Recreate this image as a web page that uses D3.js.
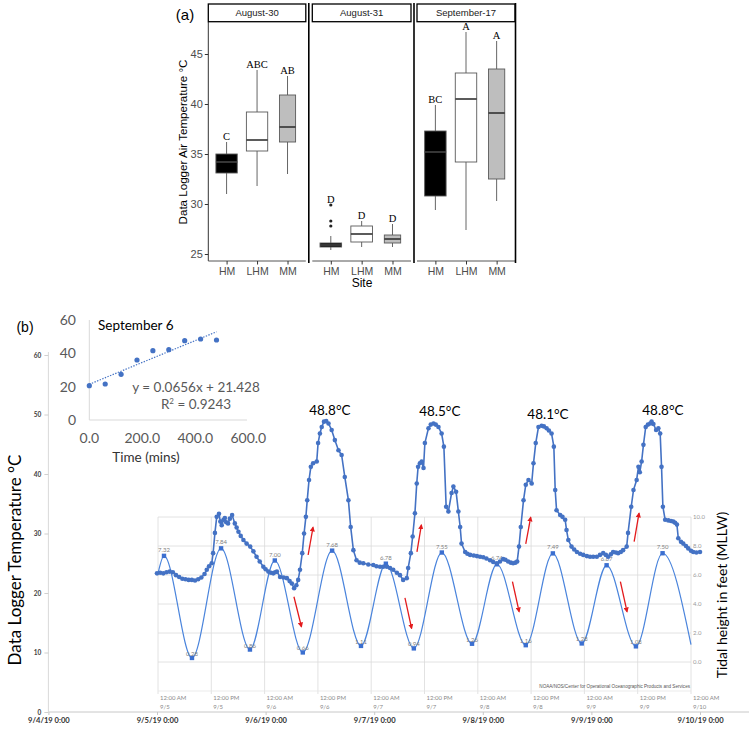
<!DOCTYPE html>
<html>
<head>
<meta charset="utf-8">
<script src="https://cdn.jsdelivr.net/npm/d3@7"></script>
<style>
  body { margin: 0; background: #fff; }
  svg { display: block; }
</style>
</head>
<body>
<div id="chart"></div>
<script>
// ---------- (a) boxplots ----------
const dates = ['August-30', 'August-31', 'September-17'];
const sites = ['HM', 'LHM', 'MM'];
// [lower whisker, Q1, median, Q3, upper whisker] per site, per date
const statsAug30 = [[31.0, 33.1, 34.2, 35.0, 36.2], [31.8, 35.3, 36.4, 39.2, 43.4], [33.0, 36.2, 37.7, 40.9, 42.8]];
const statsAug31 = [[25.4, 25.7, 25.9, 26.1, 26.8], [25.7, 26.2, 27.0, 27.8, 28.3], [25.7, 26.1, 26.5, 26.9, 28.0]];
const statsSep17 = [[29.4, 30.8, 35.2, 37.3, 39.9], [27.4, 34.2, 40.5, 43.1, 47.2], [30.3, 32.5, 39.1, 43.5, 46.3]];
const outliersAug31HM = [27.8, 28.3, 29.9];
const lettersAug30 = ['C', 'ABC', 'AB'];
const lettersAug31 = ['D', 'D', 'D'];
const lettersSep17 = ['BC', 'A', 'A'];
const tempTicksA = [25, 30, 35, 40, 45];

// ---------- (b) inset: September 6 ----------
const insetMins = [0, 60, 120, 180, 240, 300, 360, 420, 480];
const insetTemps = [20.6, 21.6, 27.4, 36.0, 41.6, 42.2, 47.6, 48.6, 48.0];
const trendSlope = 0.0656, trendIntercept = 21.428, trendR2 = 0.9243;
const insetYTicks = [0, 20, 40, 60];
const insetXTicks = [0, 200, 400, 600];

// ---------- (b) logger temperature, [hours after 9/5 0:00, °C] ----------
const loggerReadings = [
  [0, 23.3], [0.7, 23.4], [1.4, 23.3], [2.1, 23.5], [2.8, 23.6], [3.5, 23.5], [4.2, 23.0], [4.9, 22.7],
  [5.6, 22.4], [6.3, 22.3], [7.0, 22.2], [7.7, 22.2], [8.4, 22.1], [9.1, 22.3], [9.8, 22.6], [10.5, 23.2],
  [11.0, 23.9], [11.5, 24.5], [12.1, 25.0], [12.4, 26.7], [12.8, 30.1], [13.2, 32.8], [13.7, 33.3], [14.0, 32.0],
  [14.3, 31.4], [14.7, 32.3], [15.0, 32.6], [15.3, 31.9], [15.7, 31.7], [16.1, 32.5], [16.6, 33.1], [17.2, 31.7],
  [17.6, 31.0], [18.0, 30.3], [18.5, 29.6], [19.1, 28.9], [19.8, 28.3], [20.6, 27.8], [21.3, 27.0], [22.0, 26.1],
  [22.7, 25.3], [23.5, 24.4], [24.0, 24.0], [24.6, 23.6], [25.2, 23.4], [25.7, 23.3], [26.1, 23.5], [26.5, 23.6],
  [27.2, 22.7], [28.0, 22.6], [28.7, 22.5], [29.3, 22.0], [29.8, 21.6], [30.3, 20.8], [30.8, 21.3], [31.2, 22.2],
  [31.6, 23.9], [32.1, 26.7], [32.5, 30.0], [32.9, 32.8], [33.2, 35.6], [33.6, 39.0], [34.0, 41.2], [34.5, 41.8],
  [35.3, 42.1], [35.6, 45.2], [36.0, 46.8], [36.4, 47.9], [36.9, 48.8], [37.4, 48.9], [37.9, 48.5], [38.6, 47.4],
  [39.3, 45.7], [40.1, 44.0], [40.8, 43.2], [41.5, 39.5], [42.3, 35.6], [42.8, 31.1], [43.4, 27.2], [44.1, 25.5],
  [44.8, 25.1], [45.6, 25.0], [46.7, 24.8], [47.8, 24.7], [48.5, 24.5], [49.3, 24.4], [50.0, 24.4], [50.8, 24.4],
  [51.5, 24.2], [52.2, 23.9], [53.0, 23.4], [53.7, 23.0], [54.4, 22.2], [55.2, 22.5], [55.5, 24.2], [56.1, 26.7],
  [56.5, 29.5], [57.0, 33.4], [57.4, 38.4], [57.7, 41.2], [58.1, 41.8], [58.5, 42.1], [58.9, 41.0], [59.2, 45.2],
  [60.0, 47.7], [60.5, 48.3], [61.1, 48.5], [61.6, 48.3], [62.2, 47.9], [62.9, 46.8], [63.4, 44.6], [63.9, 34.5],
  [64.4, 33.7], [65.1, 36.8], [65.5, 37.9], [66.1, 37.0], [66.6, 33.7], [67.0, 31.1], [67.3, 28.3], [68.1, 26.9],
  [68.6, 26.6], [69.2, 26.4], [70.0, 26.3], [70.7, 26.2], [71.4, 26.1], [72.1, 26.0], [72.8, 25.8], [73.6, 25.5],
  [74.3, 25.2], [75.1, 25.0], [75.8, 25.3], [76.5, 25.7], [77.0, 25.6], [77.6, 25.3], [78.2, 25.1], [78.7, 25.0],
  [79.2, 25.1], [79.6, 25.3], [80.0, 27.8], [80.4, 31.1], [81.0, 35.6], [81.5, 38.2], [82.1, 39.0], [82.8, 38.4],
  [83.2, 41.8], [83.7, 45.2], [84.3, 47.9], [85.0, 48.1], [85.5, 48.0], [86.1, 47.7], [86.6, 47.3], [87.2, 46.8],
  [87.7, 44.6], [88.0, 37.3], [88.3, 33.9], [89.1, 33.1], [89.6, 32.8], [90.2, 32.3], [90.5, 30.6], [90.9, 28.9],
  [91.6, 27.8], [92.2, 27.3], [92.8, 26.9], [93.5, 26.6], [94.2, 26.4], [95.0, 26.2], [95.7, 26.1], [96.4, 26.1],
  [97.2, 26.1], [97.9, 26.4], [98.6, 26.7], [99.2, 26.4], [99.7, 26.1], [100.3, 26.5], [100.8, 26.9], [101.4, 26.8],
  [101.9, 26.7], [102.5, 26.9], [103.0, 27.2], [103.8, 27.8], [104.1, 30.1], [104.8, 34.5], [105.3, 37.3], [106.0, 39.0],
  [106.4, 41.2], [106.7, 40.3], [107.1, 42.1], [107.5, 44.9], [108.0, 47.9], [108.5, 48.3], [109.0, 48.5], [109.3, 48.8],
  [109.7, 48.4], [110.3, 47.4], [110.8, 47.7], [111.2, 46.8], [111.5, 41.2], [111.8, 34.5], [112.3, 32.3], [113.0, 32.2],
  [113.6, 32.1], [114.1, 32.0], [114.5, 31.8], [114.9, 31.5], [115.2, 29.2], [115.8, 28.6], [116.3, 28.3], [116.9, 27.9],
  [117.4, 27.5], [118.0, 27.1], [118.5, 26.9], [119.2, 26.8], [120.0, 26.9]
];
const peakLabels = ['48.8°C', '48.5°C', '48.1°C', '48.8°C'];
const peakLabelHours = [38.2, 62.5, 86.4, 111.8];
const peakLabelTemps = [48.8, 48.5, 48.1, 48.8];
const mainYTicks = [0, 10, 20, 30, 40, 50, 60];

// ---------- (b) NOAA tide predictions, [hours after 9/5 0:00, ft] ----------
const tideExtremes = [
  [1.35, 7.32], [7.65, 0.28], [14.2, 7.84], [20.7, 0.86], [26.3, 7.00], [32.6, 0.66], [39.2, 7.68], [45.7, 1.11],
  [51.3, 6.78], [57.6, 0.94], [63.9, 7.55], [70.7, 1.26], [76.3, 6.74], [82.8, 1.16], [88.9, 7.49], [95.4, 1.28],
  [101.0, 6.67], [107.6, 1.08], [113.6, 7.50]
];
const tideStart = [0, 6.1];
const tideEnd = [120, 1.2];
const tideYTicks = [0, 2, 4, 6, 8, 10];
// red arrows: [fromHour, fromFt, toHour, toFt]
const tideArrows = [
  [30.6, 4.5, 32.3, 2.43], [33.8, 7.38, 34.9, 9.29],
  [55.6, 4.43, 57.1, 2.32], [58.3, 7.6, 59.3, 9.45],
  [79.8, 5.54, 81.3, 3.47], [82.8, 8.14, 83.9, 9.98],
  [104.1, 5.54, 105.6, 3.47], [107.2, 8.3, 108.3, 10.26]
];

const width = 749, height = 730;
const svg = d3.select('#chart').append('svg')
  .attr('width', width).attr('height', height)
  .attr('viewBox', `0 0 ${width} ${height}`);

const sans = 'Liberation Sans, Arial, sans-serif';
const xl = 'Lato, Open Sans, sans-serif';

// ================= PANEL (a) =================
const statsByDate = [statsAug30, statsAug31, statsSep17];
const lettersByDate = [lettersAug30, lettersAug31, lettersSep17];
const panels = [[208.3, 305.8], [312.3, 411.0], [417.0, 515.0]];
const siteFill = { HM: '#000000', LHM: '#ffffff', MM: '#bebebe' };
const siteWidth = { HM: 0.7, LHM: 0.7, MM: 0.53 };

const yA = d3.scaleLinear().domain([24.3, 48.2]).range([261, 22]);

svg.append('text').attr('x', 185).attr('y', 20).attr('text-anchor', 'middle')
  .style('font-family', sans).style('font-size', '15px').text('(a)');

// y axis
const yAxisA = svg.append('g').attr('transform', 'translate(208.3,0)')
  .call(d3.axisLeft(yA).tickValues(tempTicksA).tickSize(3.5).tickPadding(2));
yAxisA.select('.domain').attr('stroke', '#333').attr('d', `M0,${yA.range()[1]}V${yA.range()[0]}`);
yAxisA.selectAll('.tick line').attr('stroke', '#333');
yAxisA.selectAll('text').style('font-family', sans).style('font-size', '11px').attr('fill', '#4d4d4d');

svg.append('text')
  .attr('transform', 'translate(187,142) rotate(-90)')
  .attr('text-anchor', 'middle')
  .style('font-family', sans).style('font-size', '11.6px')
  .text('Data Logger Air Temperature °C');

dates.forEach((date, di) => {
  const [left, right] = panels[di];
  const xA = d3.scaleLinear().domain([0.4, 3.6]).range([left, right]);
  const g = svg.append('g');

  // strip
  g.append('rect').attr('x', left).attr('y', 4).attr('width', right - left).attr('height', 17.7)
    .attr('fill', '#fff').attr('stroke', '#000').attr('stroke-width', 1.3);
  g.append('text').attr('x', (left + right) / 2).attr('y', 16.3).attr('text-anchor', 'middle')
    .style('font-family', sans).style('font-size', '9.5px').attr('fill', '#1a1a1a').text(date);

  // bottom axis
  const xAxisA = g.append('g').attr('transform', 'translate(0,261)')
    .call(d3.axisBottom(xA).tickValues([1, 2, 3]).tickFormat((d) => sites[d - 1]).tickSize(3.5).tickPadding(3));
  xAxisA.select('.domain').attr('stroke', '#555').attr('d', `M${left},0H${right}`);
  xAxisA.selectAll('.tick line').attr('stroke', '#333');
  xAxisA.selectAll('text').style('font-family', sans).style('font-size', '10.5px').attr('fill', '#4d4d4d');

  statsByDate[di].forEach((s, si) => {
    const site = sites[si];
    const cx = xA(si + 1);
    const half = (xA(1 + siteWidth[site] / 2) - xA(1));
    const [lo, q1, med, q3, hi] = s;
    g.append('line').attr('x1', cx).attr('x2', cx).attr('y1', yA(lo)).attr('y2', yA(q1))
      .attr('stroke', '#555').attr('stroke-width', 0.9);
    g.append('line').attr('x1', cx).attr('x2', cx).attr('y1', yA(q3)).attr('y2', yA(hi))
      .attr('stroke', '#555').attr('stroke-width', 0.9);
    g.append('rect').attr('x', cx - half).attr('y', yA(q3)).attr('width', half * 2)
      .attr('height', yA(q1) - yA(q3))
      .attr('fill', siteFill[site]).attr('stroke', '#5a5a5a').attr('stroke-width', 0.9);
    g.append('line').attr('x1', cx - half).attr('x2', cx + half).attr('y1', yA(med)).attr('y2', yA(med))
      .attr('stroke', site === 'HM' ? '#444' : '#333').attr('stroke-width', 1.6);

    let top = hi;
    if (date === 'August-31' && site === 'HM') {
      g.selectAll(null).data(outliersAug31HM).enter().append('circle')
        .attr('cx', cx).attr('cy', (d) => yA(d)).attr('r', 1.6).attr('fill', '#222');
      top = d3.max(outliersAug31HM);
    }
    g.append('text').attr('x', cx).attr('y', yA(top) - 2.5).attr('text-anchor', 'middle')
      .style('font-family', 'Liberation Serif, Times New Roman, serif').style('font-size', '10.5px')
      .text(lettersByDate[di][si]);
  });

  // panel divider
  g.append('line').attr('x1', right + (di < 2 ? 3 : 0.5)).attr('x2', right + (di < 2 ? 3 : 0.5))
    .attr('y1', 3).attr('y2', 263).attr('stroke', '#000').attr('stroke-width', 1.6);
});

svg.append('text').attr('x', 362).attr('y', 287).attr('text-anchor', 'middle')
  .style('font-family', sans).style('font-size', '12px').text('Site');

// ================= PANEL (b) main axes =================
const day0 = new Date(2019, 8, 5);
const atHour = (h) => new Date(day0.getTime() + h * 3600000);

const xMain = d3.scaleTime().domain([new Date(2019, 8, 4), new Date(2019, 8, 10)]).range([48.4, 700]);
const yMain = d3.scaleLinear().domain([0, 60]).range([712, 355]);

const xAxisMain = svg.append('g').attr('transform', 'translate(0,712)')
  .call(d3.axisBottom(xMain).ticks(d3.timeDay.every(1)).tickSize(3).tickPadding(3)
    .tickFormat(d3.timeFormat('%-m/%-d/%y 0:00')));
xAxisMain.select('.domain').attr('stroke', '#c8c8c8').attr('d', 'M48.4,0H749');
xAxisMain.selectAll('.tick line').attr('stroke', '#c8c8c8');
xAxisMain.selectAll('text').style('font-family', xl).style('font-size', '7.6px')
  .style('font-weight', 'bold').attr('fill', '#333');

const yAxisMain = svg.append('g').attr('transform', 'translate(48.4,0)')
  .call(d3.axisLeft(yMain).tickValues(mainYTicks).tickSize(4).tickPadding(3));
yAxisMain.select('.domain').attr('stroke', '#d9d9d9').attr('d', 'M0,352V712');
yAxisMain.selectAll('.tick line').attr('stroke', '#d0d0d0');
yAxisMain.selectAll('text').style('font-family', xl).style('font-size', '6.5px')
  .style('font-weight', 'bold').attr('fill', '#404040');

svg.append('text')
  .attr('transform', 'translate(21,560) rotate(-90)')
  .attr('text-anchor', 'middle')
  .style('font-family', xl).style('font-size', '17px')
  .text('Data Logger Temperature °C');

svg.append('text').attr('x', 25).attr('y', 332).attr('text-anchor', 'middle')
  .style('font-family', sans).style('font-size', '14px').text('(b)');

// ================= tide chart overlay =================
const xTide = d3.scaleTime().domain([day0, new Date(2019, 8, 10)]).range([158, 691]);
const yTide = d3.scaleLinear().domain([-2, 10]).range([691, 517]);
const tide = svg.append('g');

const halfDays = d3.timeHour.every(12).range(day0, new Date(2019, 8, 10, 1));
tide.selectAll('.vgrid').data(halfDays).enter().append('line')
  .attr('x1', (d) => xTide(d)).attr('x2', (d) => xTide(d))
  .attr('y1', yTide(10)).attr('y2', yTide(-2) + 3)
  .attr('stroke', '#dadada').attr('stroke-width', 0.8);
tide.selectAll('.hgrid').data(tideYTicks).enter().append('line')
  .attr('x1', xTide.range()[0]).attr('x2', xTide.range()[1])
  .attr('y1', (d) => yTide(d)).attr('y2', (d) => yTide(d))
  .attr('stroke', '#dadada').attr('stroke-width', 0.8);
tide.append('line').attr('x1', xTide.range()[0]).attr('x2', xTide.range()[1])
  .attr('y1', yTide(-2)).attr('y2', yTide(-2)).attr('stroke', '#e6e6e6').attr('stroke-width', 0.8);

tide.selectAll('.ylab').data(tideYTicks).enter().append('text')
  .attr('x', xTide.range()[1] + 2).attr('y', (d) => yTide(d) + 2)
  .style('font-family', xl).style('font-size', '6px').attr('fill', '#9a9a9a')
  .text((d) => d.toFixed(1));

const tideLab = tide.selectAll('.xlab').data(halfDays).enter().append('text')
  .attr('x', (d) => xTide(d) + 2).attr('y', 700)
  .style('font-family', xl).style('font-size', '6px').attr('fill', '#8a8a8a');
tideLab.append('tspan').text((d) => d3.timeFormat('%I:%M %p')(d));
tideLab.append('tspan').attr('x', (d) => xTide(d) + 2).attr('dy', 8.5).text((d) => d3.timeFormat('%-m/%-d')(d));

tide.append('text').attr('x', xTide.range()[1] - 1).attr('y', 688).attr('text-anchor', 'end')
  .style('font-family', sans).style('font-size', '4.6px').attr('fill', '#555')
  .text('NOAA/NOS/Center for Operational Oceanographic Products and Services');

const tidePts = [tideStart, ...tideExtremes, tideEnd];
tide.append('path').datum(tidePts)
  .attr('fill', 'none').attr('stroke', '#4a84dc').attr('stroke-width', 1.2)
  .attr('d', d3.line().x((d) => xTide(atHour(d[0]))).y((d) => yTide(d[1])).curve(d3.curveMonotoneX));
tide.selectAll('.ext').data(tideExtremes).enter().append('rect')
  .attr('x', (d) => xTide(atHour(d[0])) - 2.2).attr('y', (d) => yTide(d[1]) - 2.2)
  .attr('width', 4.4).attr('height', 4.4).attr('fill', '#3b6fd0');
tide.selectAll('.extlab').data(tideExtremes).enter().append('text')
  .attr('x', (d) => xTide(atHour(d[0]))).attr('y', (d) => yTide(d[1]) - (d[1] > 4 ? 4 : 2))
  .attr('text-anchor', 'middle')
  .style('font-family', xl).style('font-size', '6px').attr('fill', '#7f7f7f')
  .text((d) => d[1].toFixed(2));

svg.append('text')
  .attr('transform', 'translate(727,595) rotate(-90)')
  .attr('text-anchor', 'middle')
  .style('font-family', xl).style('font-size', '14px')
  .text('Tidal height in feet (MLLW)');

// ================= logger temperature =================
const tempLine = d3.line().x((d) => xMain(atHour(d[0]))).y((d) => yMain(d[1]));
svg.append('path').datum(loggerReadings)
  .attr('fill', 'none').attr('stroke', '#4472C4').attr('stroke-width', 1.6).attr('d', tempLine);
svg.selectAll('.lr').data(loggerReadings).enter().append('circle')
  .attr('cx', (d) => xMain(atHour(d[0]))).attr('cy', (d) => yMain(d[1]))
  .attr('r', 2.3).attr('fill', '#4472C4');

svg.selectAll('.peak').data(peakLabels).enter().append('text')
  .attr('x', (d, i) => xMain(atHour(peakLabelHours[i])))
  .attr('y', (d, i) => yMain(peakLabelTemps[i]) - 7)
  .attr('text-anchor', 'middle')
  .style('font-family', xl).style('font-size', '13.5px').attr('fill', '#000')
  .text((d) => d);

// red arrows
svg.append('defs').append('marker').attr('id', 'arrowhead')
  .attr('viewBox', '0 0 10 10').attr('refX', 8).attr('refY', 5)
  .attr('markerWidth', 4).attr('markerHeight', 4).attr('orient', 'auto')
  .append('path').attr('d', 'M0,0L10,5L0,10z').attr('fill', '#e31a1c');
svg.selectAll('.arrow').data(tideArrows).enter().append('line')
  .attr('x1', (d) => xTide(atHour(d[0]))).attr('y1', (d) => yTide(d[1]))
  .attr('x2', (d) => xTide(atHour(d[2]))).attr('y2', (d) => yTide(d[3]))
  .attr('stroke', '#e31a1c').attr('stroke-width', 1.3).attr('marker-end', 'url(#arrowhead)');

// ================= inset: September 6 =================
const xIn = d3.scaleLinear().domain([0, 600]).range([89.3, 248.3]);
const yIn = d3.scaleLinear().domain([0, 60]).range([420, 320]);
const inset = svg.append('g');

inset.append('line').attr('x1', xIn(0)).attr('x2', xIn(0)).attr('y1', yIn(60)).attr('y2', yIn(0))
  .attr('stroke', '#d9d9d9');
inset.append('line').attr('x1', xIn(0)).attr('x2', xIn(595)).attr('y1', yIn(0)).attr('y2', yIn(0))
  .attr('stroke', '#d9d9d9');
inset.selectAll('.iy').data(insetYTicks).enter().append('text')
  .attr('x', 76).attr('y', (d) => yIn(d) + 5).attr('text-anchor', 'end')
  .style('font-family', xl).style('font-size', '14px').attr('fill', '#595959').text((d) => d);
inset.selectAll('.ix').data(insetXTicks).enter().append('text')
  .attr('x', (d) => xIn(d)).attr('y', 443).attr('text-anchor', 'middle')
  .style('font-family', xl).style('font-size', '14px').attr('fill', '#595959').text((d) => d.toFixed(1));
inset.append('text').attr('x', 146).attr('y', 462).attr('text-anchor', 'middle')
  .style('font-family', xl).style('font-size', '13.5px').attr('fill', '#333').text('Time (mins)');
inset.append('text').attr('x', 98).attr('y', 330)
  .style('font-family', xl).style('font-size', '13.5px').attr('fill', '#000').text('September 6');

const trendX = d3.extent(insetMins);
inset.append('line')
  .attr('x1', xIn(trendX[0])).attr('y1', yIn(trendSlope * trendX[0] + trendIntercept))
  .attr('x2', xIn(trendX[1])).attr('y2', yIn(trendSlope * trendX[1] + trendIntercept))
  .attr('stroke', '#4472C4').attr('stroke-width', 1.2).attr('stroke-dasharray', '1.4,1.4');
inset.selectAll('.ip').data(insetMins).enter().append('circle')
  .attr('cx', (d) => xIn(d)).attr('cy', (d, i) => yIn(insetTemps[i]))
  .attr('r', 2.6).attr('fill', '#4472C4');

inset.append('text').attr('x', 196).attr('y', 392).attr('text-anchor', 'middle')
  .style('font-family', xl).style('font-size', '13.5px').attr('fill', '#595959')
  .text(`y = ${trendSlope}x + ${trendIntercept}`);
const r2 = inset.append('text').attr('x', 196).attr('y', 409).attr('text-anchor', 'middle')
  .style('font-family', xl).style('font-size', '13.5px').attr('fill', '#595959');
r2.append('tspan').text('R');
r2.append('tspan').attr('dy', -5).style('font-size', '8px').text('2');
r2.append('tspan').attr('dy', 5).text(` = ${trendR2}`);
</script>
</body>
</html>
